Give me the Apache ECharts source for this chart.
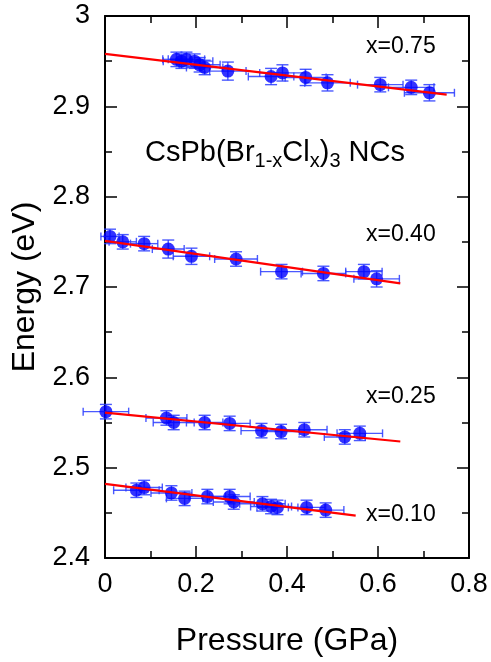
<!DOCTYPE html>
<html><head><meta charset="utf-8">
<script src="https://cdn.jsdelivr.net/npm/echarts@6.0.0/dist/echarts.min.js"></script>
<style>html,body{margin:0;padding:0;background:#fff}#c{width:491px;height:662px}</style>
</head><body><div id="c"></div>
<script>
// ---- data ----
const xTicks = [0, 0.2, 0.4, 0.6, 0.8];
const yTicks = [2.4, 2.5, 2.6, 2.7, 2.8, 2.9, 3.0];

const labels = ['x=0.75', 'x=0.40', 'x=0.25', 'x=0.10'];

const p075  = [0.157, 0.168, 0.179, 0.197, 0.208, 0.219, 0.270, 0.365, 0.390, 0.441, 0.489, 0.605, 0.673, 0.713];
const e075  = [2.952, 2.950, 2.952, 2.950, 2.946, 2.943, 2.939, 2.933, 2.937, 2.932, 2.926, 2.924, 2.921, 2.915];
const dp075 = [0.030, 0.040, 0.040, 0.040, 0.045, 0.040, 0.040, 0.050, 0.050, 0.045, 0.050, 0.050, 0.050, 0.055];
const de075 = [0.008, 0.008, 0.008, 0.008, 0.008, 0.008, 0.010, 0.009, 0.009, 0.009, 0.009, 0.008, 0.008, 0.009];

const p040  = [0.011, 0.039, 0.086, 0.139, 0.190, 0.288, 0.388, 0.480, 0.569, 0.597];
const e040  = [2.756, 2.750, 2.748, 2.742, 2.734, 2.731, 2.717, 2.715, 2.717, 2.709];
const dp040 = [0.020, 0.030, 0.030, 0.035, 0.040, 0.047, 0.046, 0.049, 0.040, 0.050];
const de040 = [0.008, 0.008, 0.008, 0.010, 0.009, 0.008, 0.008, 0.008, 0.008, 0.009];

const p025  = [0.002, 0.135, 0.151, 0.219, 0.274, 0.344, 0.387, 0.438, 0.527, 0.560];
const e025  = [2.562, 2.555, 2.550, 2.550, 2.549, 2.541, 2.540, 2.542, 2.534, 2.538];
const dp025 = [0.050, 0.045, 0.045, 0.040, 0.045, 0.045, 0.040, 0.050, 0.045, 0.050];
const de025 = [0.008, 0.008, 0.008, 0.008, 0.008, 0.008, 0.008, 0.008, 0.008, 0.008];

const p010  = [0.069, 0.086, 0.146, 0.175, 0.225, 0.274, 0.283, 0.346, 0.365, 0.379, 0.443, 0.485];
const e010  = [2.475, 2.478, 2.472, 2.466, 2.468, 2.468, 2.462, 2.460, 2.457, 2.456, 2.456, 2.453];
const dp010 = [0.050, 0.040, 0.045, 0.040, 0.040, 0.045, 0.045, 0.050, 0.045, 0.045, 0.040, 0.040];
const de010 = [0.008, 0.008, 0.008, 0.008, 0.008, 0.008, 0.008, 0.008, 0.008, 0.008, 0.008, 0.008];

// linear fits (end points)
const fitP075 = [0, 0.751], fitE075 = [2.958, 2.913];
const fitP040 = [0, 0.649], fitE040 = [2.751, 2.704];
const fitP025 = [0, 0.649], fitE025 = [2.561, 2.529];
const fitP010 = [0, 0.551], fitE010 = [2.482, 2.447];

// ---- build ----
const FONT = '"Liberation Sans", Arial, sans-serif';
const zip = (a, b) => a.map((v, i) => [v, b[i]]);
const zip4 = (a, b, c, d) => a.map((v, i) => [v, b[i], c[i], d[i]]);

function renderErr(params, api) {
  const p = api.value(0), e = api.value(1), dp = api.value(2), de = api.value(3);
  const l = api.coord([p - dp, e]), r = api.coord([p + dp, e]);
  const t = api.coord([p, e + de]), b = api.coord([p, e - de]);
  const style = { stroke: '#2a3cff', lineWidth: 1.4, opacity: 0.85 };
  const cw = 6, ch = 4;
  const ln = (x1, y1, x2, y2) => ({ type: 'line', shape: { x1, y1, x2, y2 }, style });
  return { type: 'group', children: [
    ln(l[0], l[1], r[0], r[1]),
    ln(l[0], l[1] - ch, l[0], l[1] + ch),
    ln(r[0], r[1] - ch, r[0], r[1] + ch),
    ln(t[0], t[1], b[0], b[1]),
    ln(t[0] - cw, t[1], t[0] + cw, t[1]),
    ln(b[0] - cw, b[1], b[0] + cw, b[1])
  ]};
}

const sets = [
  [p075, e075, dp075, de075, fitP075, fitE075],
  [p040, e040, dp040, de040, fitP040, fitE040],
  [p025, e025, dp025, de025, fitP025, fitE025],
  [p010, e010, dp010, de010, fitP010, fitE010]
];

const series = [];
sets.forEach((s, i) => {
  series.push({
    type: 'custom', name: labels[i] + ' err', renderItem: renderErr,
    encode: { x: 0, y: 1 }, data: zip4(s[0], s[1], s[2], s[3]), z: 2, silent: true
  });
});
sets.forEach((s, i) => {
  series.push({
    type: 'scatter', name: labels[i], data: zip(s[0], s[1]),
    symbol: 'circle', symbolSize: 13, itemStyle: { color: '#0000ff' }, z: 3
  });
});
sets.forEach((s, i) => {
  series.push({
    type: 'line', name: labels[i] + ' fit', data: zip(s[4], s[5]),
    symbol: 'none', lineStyle: { color: '#ff0000', width: 2.2 }, z: 4
  });
});

const axisCommon = {
  axisLine: { show: true, onZero: false, lineStyle: { color: '#000', width: 2 } },
  axisTick: { show: true, inside: true, length: 12, lineStyle: { color: '#000', width: 1.5 } },
  minorTick: { show: true, splitNumber: 2, length: 7, lineStyle: { color: '#000', width: 1.5 } },
  splitLine: { show: false }, minorSplitLine: { show: false }
};

const xBase = { type: 'value', min: xTicks[0], max: xTicks[xTicks.length - 1], interval: xTicks[1] - xTicks[0] };
const yBase = { type: 'value', min: yTicks[0], max: yTicks[yTicks.length - 1], interval: +(yTicks[1] - yTicks[0]).toFixed(2) };

const option = {
  backgroundColor: '#fff',
  animation: false,
  grid: { left: 105, right: 22, top: 16, bottom: 99, containLabel: false },
  xAxis: [
    Object.assign({}, xBase, axisCommon, {
      position: 'bottom',
      axisLabel: { fontSize: 27, color: '#000', fontFamily: FONT, margin: 13, formatter: v => String(+v.toFixed(1)) },
      name: 'Pressure (GPa)', nameLocation: 'middle', nameGap: 67,
      nameTextStyle: { fontSize: 32, color: '#000', fontFamily: FONT }
    }),
    Object.assign({}, xBase, axisCommon, { position: 'top', axisLabel: { show: false } })
  ],
  yAxis: [
    Object.assign({}, yBase, axisCommon, {
      position: 'left',
      axisLabel: { fontSize: 27, color: '#000', fontFamily: FONT, margin: 15, formatter: v => String(+v.toFixed(1)) },
      name: 'Energy (eV)', nameLocation: 'middle', nameGap: 62,
      nameTextStyle: { fontSize: 32, color: '#000', fontFamily: FONT }
    }),
    Object.assign({}, yBase, axisCommon, { position: 'right', axisLabel: { show: false } })
  ],
  graphic: [
    { type: 'text', x: 366, y: 47, style: { text: labels[0], fontSize: 23, fontFamily: FONT, fill: '#000', verticalAlign: 'middle' } },
    { type: 'text', x: 366, y: 235, style: { text: labels[1], fontSize: 23, fontFamily: FONT, fill: '#000', verticalAlign: 'middle' } },
    { type: 'text', x: 366, y: 397, style: { text: labels[2], fontSize: 23, fontFamily: FONT, fill: '#000', verticalAlign: 'middle' } },
    { type: 'text', x: 366, y: 515, style: { text: labels[3], fontSize: 23, fontFamily: FONT, fill: '#000', verticalAlign: 'middle' } },
    { type: 'text', x: 145, y: 153, style: {
        text: '{m|CsPb(Br}{s|1-x}{m|Cl}{s|x}{m|)}{s|3}{m| NCs}',
        verticalAlign: 'middle', fill: '#000',
        rich: {
          m: { fontSize: 29, fontFamily: FONT, lineHeight: 36, fill: '#000' },
          s: { fontSize: 20, fontFamily: FONT, lineHeight: 14, verticalAlign: 'bottom', fill: '#000' }
        }
    } }
  ],
  series: series
};

const chart = echarts.init(document.getElementById('c'), null, { renderer: 'canvas' });
chart.setOption(option);
</script>
</body></html>
